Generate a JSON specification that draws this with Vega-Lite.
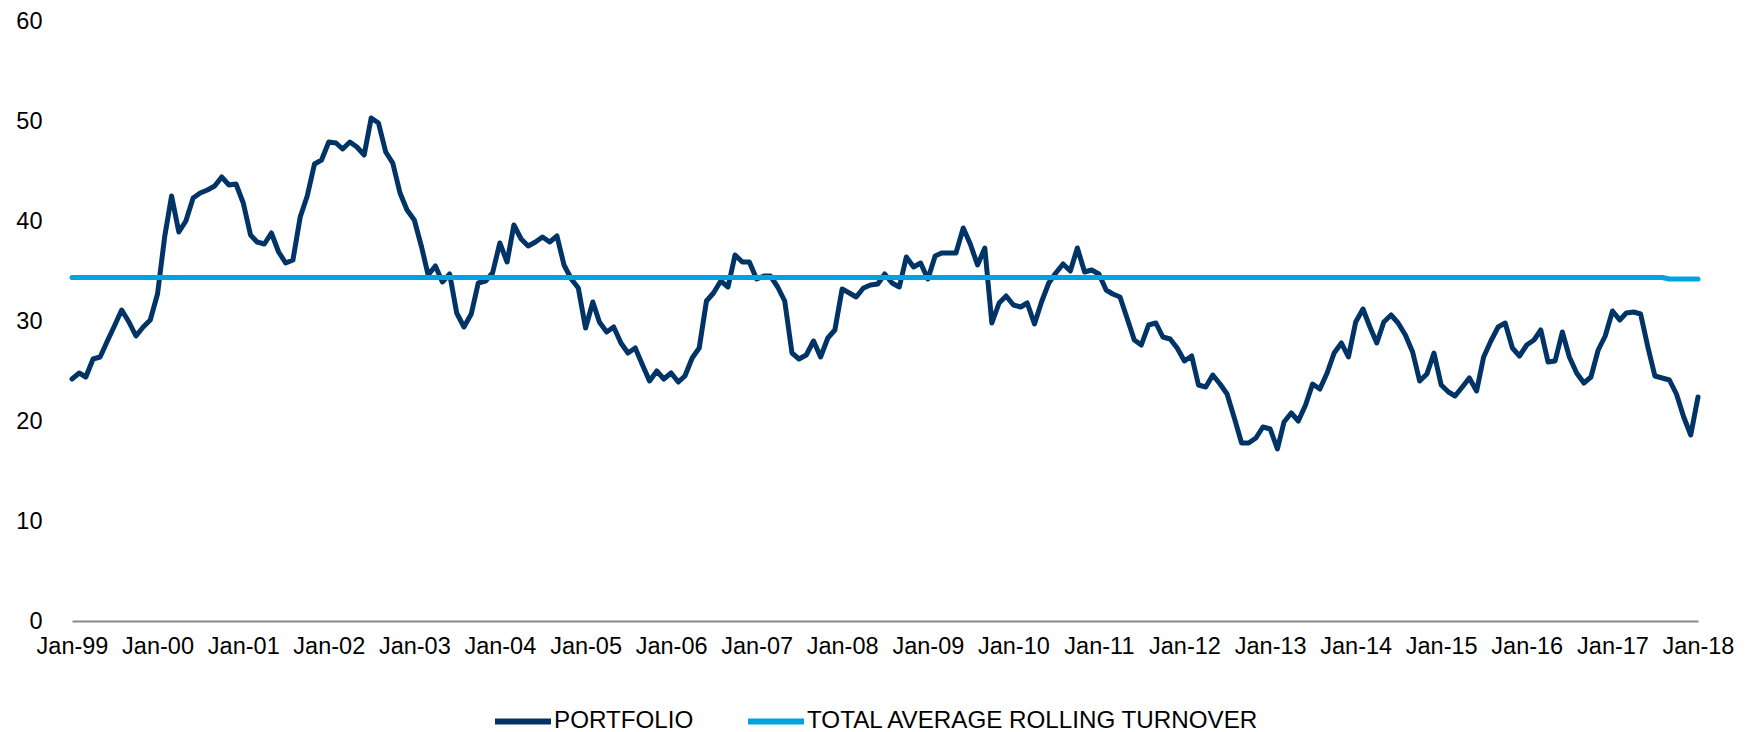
{
  "$schema": "https://vega.github.io/schema/vega-lite/v6.json",
  "width": 1626,
  "height": 600,
  "autosize": {"type": "none"},
  "padding": {"left": 72, "top": 21, "right": 49, "bottom": 111},
  "background": "white",
  "config": {"view": {"stroke": null}, "font": "Liberation Sans, Arial, sans-serif"},
  "datasets": {
    "turnover": [
      {"date":"1999-01-01","portfolio":24.2,"average":34.35},{"date":"1999-02-01","portfolio":24.8,"average":34.35},{"date":"1999-03-01","portfolio":24.4,"average":34.35},{"date":"1999-04-01","portfolio":26.2,"average":34.35},{"date":"1999-05-01","portfolio":26.4,"average":34.35},{"date":"1999-06-01","portfolio":28.0,"average":34.35},{"date":"1999-07-01","portfolio":29.5,"average":34.35},{"date":"1999-08-01","portfolio":31.1,"average":34.35},{"date":"1999-09-01","portfolio":29.9,"average":34.35},{"date":"1999-10-01","portfolio":28.5,"average":34.35},{"date":"1999-11-01","portfolio":29.4,"average":34.35},{"date":"1999-12-01","portfolio":30.1,"average":34.35},
      {"date":"2000-01-01","portfolio":32.7,"average":34.35},{"date":"2000-02-01","portfolio":38.5,"average":34.35},{"date":"2000-03-01","portfolio":42.5,"average":34.35},{"date":"2000-04-01","portfolio":38.9,"average":34.35},{"date":"2000-05-01","portfolio":40.0,"average":34.35},{"date":"2000-06-01","portfolio":42.3,"average":34.35},{"date":"2000-07-01","portfolio":42.8,"average":34.35},{"date":"2000-08-01","portfolio":43.1,"average":34.35},{"date":"2000-09-01","portfolio":43.5,"average":34.35},{"date":"2000-10-01","portfolio":44.4,"average":34.35},{"date":"2000-11-01","portfolio":43.6,"average":34.35},{"date":"2000-12-01","portfolio":43.7,"average":34.35},
      {"date":"2001-01-01","portfolio":41.8,"average":34.35},{"date":"2001-02-01","portfolio":38.6,"average":34.35},{"date":"2001-03-01","portfolio":37.9,"average":34.35},{"date":"2001-04-01","portfolio":37.7,"average":34.35},{"date":"2001-05-01","portfolio":38.8,"average":34.35},{"date":"2001-06-01","portfolio":36.9,"average":34.35},{"date":"2001-07-01","portfolio":35.8,"average":34.35},{"date":"2001-08-01","portfolio":36.1,"average":34.35},{"date":"2001-09-01","portfolio":40.4,"average":34.35},{"date":"2001-10-01","portfolio":42.5,"average":34.35},{"date":"2001-11-01","portfolio":45.7,"average":34.35},{"date":"2001-12-01","portfolio":46.1,"average":34.35},
      {"date":"2002-01-01","portfolio":47.9,"average":34.35},{"date":"2002-02-01","portfolio":47.8,"average":34.35},{"date":"2002-03-01","portfolio":47.2,"average":34.35},{"date":"2002-04-01","portfolio":47.9,"average":34.35},{"date":"2002-05-01","portfolio":47.4,"average":34.35},{"date":"2002-06-01","portfolio":46.6,"average":34.35},{"date":"2002-07-01","portfolio":50.3,"average":34.35},{"date":"2002-08-01","portfolio":49.8,"average":34.35},{"date":"2002-09-01","portfolio":46.9,"average":34.35},{"date":"2002-10-01","portfolio":45.8,"average":34.35},{"date":"2002-11-01","portfolio":42.8,"average":34.35},{"date":"2002-12-01","portfolio":41.1,"average":34.35},
      {"date":"2003-01-01","portfolio":40.1,"average":34.35},{"date":"2003-02-01","portfolio":37.4,"average":34.35},{"date":"2003-03-01","portfolio":34.6,"average":34.35},{"date":"2003-04-01","portfolio":35.5,"average":34.35},{"date":"2003-05-01","portfolio":33.9,"average":34.35},{"date":"2003-06-01","portfolio":34.7,"average":34.35},{"date":"2003-07-01","portfolio":30.8,"average":34.35},{"date":"2003-08-01","portfolio":29.4,"average":34.35},{"date":"2003-09-01","portfolio":30.7,"average":34.35},{"date":"2003-10-01","portfolio":33.8,"average":34.35},{"date":"2003-11-01","portfolio":34.0,"average":34.35},{"date":"2003-12-01","portfolio":34.8,"average":34.35},
      {"date":"2004-01-01","portfolio":37.8,"average":34.35},{"date":"2004-02-01","portfolio":35.9,"average":34.35},{"date":"2004-03-01","portfolio":39.6,"average":34.35},{"date":"2004-04-01","portfolio":38.2,"average":34.35},{"date":"2004-05-01","portfolio":37.5,"average":34.35},{"date":"2004-06-01","portfolio":37.9,"average":34.35},{"date":"2004-07-01","portfolio":38.4,"average":34.35},{"date":"2004-08-01","portfolio":37.9,"average":34.35},{"date":"2004-09-01","portfolio":38.5,"average":34.35},{"date":"2004-10-01","portfolio":35.6,"average":34.35},{"date":"2004-11-01","portfolio":34.2,"average":34.35},{"date":"2004-12-01","portfolio":33.3,"average":34.35},
      {"date":"2005-01-01","portfolio":29.3,"average":34.35},{"date":"2005-02-01","portfolio":31.9,"average":34.35},{"date":"2005-03-01","portfolio":29.9,"average":34.35},{"date":"2005-04-01","portfolio":28.9,"average":34.35},{"date":"2005-05-01","portfolio":29.4,"average":34.35},{"date":"2005-06-01","portfolio":27.8,"average":34.35},{"date":"2005-07-01","portfolio":26.8,"average":34.35},{"date":"2005-08-01","portfolio":27.3,"average":34.35},{"date":"2005-09-01","portfolio":25.6,"average":34.35},{"date":"2005-10-01","portfolio":24.0,"average":34.35},{"date":"2005-11-01","portfolio":25.0,"average":34.35},{"date":"2005-12-01","portfolio":24.2,"average":34.35},
      {"date":"2006-01-01","portfolio":24.8,"average":34.35},{"date":"2006-02-01","portfolio":23.9,"average":34.35},{"date":"2006-03-01","portfolio":24.5,"average":34.35},{"date":"2006-04-01","portfolio":26.3,"average":34.35},{"date":"2006-05-01","portfolio":27.3,"average":34.35},{"date":"2006-06-01","portfolio":32.0,"average":34.35},{"date":"2006-07-01","portfolio":32.8,"average":34.35},{"date":"2006-08-01","portfolio":34.0,"average":34.35},{"date":"2006-09-01","portfolio":33.4,"average":34.35},{"date":"2006-10-01","portfolio":36.6,"average":34.35},{"date":"2006-11-01","portfolio":35.9,"average":34.35},{"date":"2006-12-01","portfolio":35.9,"average":34.35},
      {"date":"2007-01-01","portfolio":34.2,"average":34.35},{"date":"2007-02-01","portfolio":34.5,"average":34.35},{"date":"2007-03-01","portfolio":34.5,"average":34.35},{"date":"2007-04-01","portfolio":33.4,"average":34.35},{"date":"2007-05-01","portfolio":32.0,"average":34.35},{"date":"2007-06-01","portfolio":26.8,"average":34.35},{"date":"2007-07-01","portfolio":26.2,"average":34.35},{"date":"2007-08-01","portfolio":26.6,"average":34.35},{"date":"2007-09-01","portfolio":28.0,"average":34.35},{"date":"2007-10-01","portfolio":26.4,"average":34.35},{"date":"2007-11-01","portfolio":28.3,"average":34.35},{"date":"2007-12-01","portfolio":29.1,"average":34.35},
      {"date":"2008-01-01","portfolio":33.2,"average":34.35},{"date":"2008-02-01","portfolio":32.8,"average":34.35},{"date":"2008-03-01","portfolio":32.4,"average":34.35},{"date":"2008-04-01","portfolio":33.3,"average":34.35},{"date":"2008-05-01","portfolio":33.6,"average":34.35},{"date":"2008-06-01","portfolio":33.7,"average":34.35},{"date":"2008-07-01","portfolio":34.7,"average":34.35},{"date":"2008-08-01","portfolio":33.8,"average":34.35},{"date":"2008-09-01","portfolio":33.4,"average":34.35},{"date":"2008-10-01","portfolio":36.4,"average":34.35},{"date":"2008-11-01","portfolio":35.4,"average":34.35},{"date":"2008-12-01","portfolio":35.8,"average":34.35},
      {"date":"2009-01-01","portfolio":34.2,"average":34.35},{"date":"2009-02-01","portfolio":36.5,"average":34.35},{"date":"2009-03-01","portfolio":36.8,"average":34.35},{"date":"2009-04-01","portfolio":36.8,"average":34.35},{"date":"2009-05-01","portfolio":36.8,"average":34.35},{"date":"2009-06-01","portfolio":39.3,"average":34.35},{"date":"2009-07-01","portfolio":37.7,"average":34.35},{"date":"2009-08-01","portfolio":35.6,"average":34.35},{"date":"2009-09-01","portfolio":37.3,"average":34.35},{"date":"2009-10-01","portfolio":29.8,"average":34.35},{"date":"2009-11-01","portfolio":31.8,"average":34.35},{"date":"2009-12-01","portfolio":32.5,"average":34.35},
      {"date":"2010-01-01","portfolio":31.6,"average":34.35},{"date":"2010-02-01","portfolio":31.4,"average":34.35},{"date":"2010-03-01","portfolio":31.8,"average":34.35},{"date":"2010-04-01","portfolio":29.7,"average":34.35},{"date":"2010-05-01","portfolio":31.9,"average":34.35},{"date":"2010-06-01","portfolio":33.8,"average":34.35},{"date":"2010-07-01","portfolio":34.8,"average":34.35},{"date":"2010-08-01","portfolio":35.7,"average":34.35},{"date":"2010-09-01","portfolio":35.0,"average":34.35},{"date":"2010-10-01","portfolio":37.3,"average":34.35},{"date":"2010-11-01","portfolio":34.9,"average":34.35},{"date":"2010-12-01","portfolio":35.1,"average":34.35},
      {"date":"2011-01-01","portfolio":34.7,"average":34.35},{"date":"2011-02-01","portfolio":33.1,"average":34.35},{"date":"2011-03-01","portfolio":32.7,"average":34.35},{"date":"2011-04-01","portfolio":32.4,"average":34.35},{"date":"2011-05-01","portfolio":30.3,"average":34.35},{"date":"2011-06-01","portfolio":28.1,"average":34.35},{"date":"2011-07-01","portfolio":27.6,"average":34.35},{"date":"2011-08-01","portfolio":29.6,"average":34.35},{"date":"2011-09-01","portfolio":29.8,"average":34.35},{"date":"2011-10-01","portfolio":28.4,"average":34.35},{"date":"2011-11-01","portfolio":28.2,"average":34.35},{"date":"2011-12-01","portfolio":27.3,"average":34.35},
      {"date":"2012-01-01","portfolio":26.0,"average":34.35},{"date":"2012-02-01","portfolio":26.5,"average":34.35},{"date":"2012-03-01","portfolio":23.6,"average":34.35},{"date":"2012-04-01","portfolio":23.4,"average":34.35},{"date":"2012-05-01","portfolio":24.6,"average":34.35},{"date":"2012-06-01","portfolio":23.7,"average":34.35},{"date":"2012-07-01","portfolio":22.7,"average":34.35},{"date":"2012-08-01","portfolio":20.3,"average":34.35},{"date":"2012-09-01","portfolio":17.8,"average":34.35},{"date":"2012-10-01","portfolio":17.8,"average":34.35},{"date":"2012-11-01","portfolio":18.3,"average":34.35},{"date":"2012-12-01","portfolio":19.4,"average":34.35},
      {"date":"2013-01-01","portfolio":19.2,"average":34.35},{"date":"2013-02-01","portfolio":17.2,"average":34.35},{"date":"2013-03-01","portfolio":19.9,"average":34.35},{"date":"2013-04-01","portfolio":20.8,"average":34.35},{"date":"2013-05-01","portfolio":20.0,"average":34.35},{"date":"2013-06-01","portfolio":21.6,"average":34.35},{"date":"2013-07-01","portfolio":23.7,"average":34.35},{"date":"2013-08-01","portfolio":23.2,"average":34.35},{"date":"2013-09-01","portfolio":24.8,"average":34.35},{"date":"2013-10-01","portfolio":26.8,"average":34.35},{"date":"2013-11-01","portfolio":27.8,"average":34.35},{"date":"2013-12-01","portfolio":26.4,"average":34.35},
      {"date":"2014-01-01","portfolio":29.9,"average":34.35},{"date":"2014-02-01","portfolio":31.2,"average":34.35},{"date":"2014-03-01","portfolio":29.5,"average":34.35},{"date":"2014-04-01","portfolio":27.8,"average":34.35},{"date":"2014-05-01","portfolio":29.9,"average":34.35},{"date":"2014-06-01","portfolio":30.6,"average":34.35},{"date":"2014-07-01","portfolio":29.8,"average":34.35},{"date":"2014-08-01","portfolio":28.6,"average":34.35},{"date":"2014-09-01","portfolio":26.9,"average":34.35},{"date":"2014-10-01","portfolio":24.0,"average":34.35},{"date":"2014-11-01","portfolio":24.7,"average":34.35},{"date":"2014-12-01","portfolio":26.8,"average":34.35},
      {"date":"2015-01-01","portfolio":23.6,"average":34.35},{"date":"2015-02-01","portfolio":22.9,"average":34.35},{"date":"2015-03-01","portfolio":22.5,"average":34.35},{"date":"2015-04-01","portfolio":23.4,"average":34.35},{"date":"2015-05-01","portfolio":24.3,"average":34.35},{"date":"2015-06-01","portfolio":23.0,"average":34.35},{"date":"2015-07-01","portfolio":26.4,"average":34.35},{"date":"2015-08-01","portfolio":28.0,"average":34.35},{"date":"2015-09-01","portfolio":29.4,"average":34.35},{"date":"2015-10-01","portfolio":29.8,"average":34.35},{"date":"2015-11-01","portfolio":27.3,"average":34.35},{"date":"2015-12-01","portfolio":26.5,"average":34.35},
      {"date":"2016-01-01","portfolio":27.6,"average":34.35},{"date":"2016-02-01","portfolio":28.1,"average":34.35},{"date":"2016-03-01","portfolio":29.1,"average":34.35},{"date":"2016-04-01","portfolio":25.9,"average":34.35},{"date":"2016-05-01","portfolio":26.0,"average":34.35},{"date":"2016-06-01","portfolio":28.9,"average":34.35},{"date":"2016-07-01","portfolio":26.4,"average":34.35},{"date":"2016-08-01","portfolio":24.8,"average":34.35},{"date":"2016-09-01","portfolio":23.8,"average":34.35},{"date":"2016-10-01","portfolio":24.4,"average":34.35},{"date":"2016-11-01","portfolio":27.1,"average":34.35},{"date":"2016-12-01","portfolio":28.5,"average":34.35},
      {"date":"2017-01-01","portfolio":31.0,"average":34.35},{"date":"2017-02-01","portfolio":30.1,"average":34.35},{"date":"2017-03-01","portfolio":30.8,"average":34.35},{"date":"2017-04-01","portfolio":30.9,"average":34.35},{"date":"2017-05-01","portfolio":30.7,"average":34.35},{"date":"2017-06-01","portfolio":27.4,"average":34.35},{"date":"2017-07-01","portfolio":24.5,"average":34.35},{"date":"2017-08-01","portfolio":24.3,"average":34.35},{"date":"2017-09-01","portfolio":24.1,"average":34.2},{"date":"2017-10-01","portfolio":22.7,"average":34.2},{"date":"2017-11-01","portfolio":20.4,"average":34.2},{"date":"2017-12-01","portfolio":18.6,"average":34.2},
      {"date":"2018-01-01","portfolio":22.4,"average":34.2}
    ]
  },
  "data": {"name": "turnover"},
  "encoding": {
    "x": {
      "field": "date",
      "type": "temporal",
      "scale": {"type": "utc", "domain": [{"year": 1999, "month": 1, "date": 1, "utc": true}, {"year": 2018, "month": 1, "date": 1, "utc": true}]},
      "axis": {
        "title": null,
        "format": "%b-%y",
        "tickCount": {"interval": "year", "step": 1},
        "ticks": false,
        "grid": false,
        "domainColor": "#898989",
        "domainWidth": 2,
        "labelFontSize": 23.5,
        "labelColor": "#000000",
        "labelPadding": 13,
        "labelFlush": false,
        "labelOverlap": false
      }
    }
  },
  "layer": [
    {
      "mark": {"type": "line", "strokeWidth": 5, "strokeJoin": "round", "strokeCap": "round"},
      "encoding": {
        "y": {
          "field": "portfolio",
          "type": "quantitative",
          "scale": {"domain": [0, 60]},
          "axis": {"title": null, "values": [0, 10, 20, 30, 40, 50, 60], "domain": false, "ticks": false, "grid": false, "labelFontSize": 23.5, "labelColor": "#000000", "labelPadding": 30}
        },
        "color": {
          "datum": "PORTFOLIO",
          "type": "nominal",
          "scale": {"domain": ["PORTFOLIO", "TOTAL AVERAGE ROLLING TURNOVER"], "range": ["#003466", "#00A3E1"]},
          "legend": {
            "title": null,
            "orient": "none",
            "legendX": 420,
            "legendY": 669,
            "direction": "horizontal",
            "symbolType": "stroke",
            "symbolSize": 3136,
            "symbolStrokeWidth": 6,
            "labelFontSize": 24.2,
            "labelColor": "#000000",
            "labelOffset": 0,
            "columnPadding": 42,
            "labelLimit": 700
          }
        }
      }
    },
    {
      "mark": {"type": "line", "strokeWidth": 5, "strokeJoin": "round", "strokeCap": "round"},
      "encoding": {
        "y": {"field": "average", "type": "quantitative"},
        "color": {"datum": "TOTAL AVERAGE ROLLING TURNOVER", "type": "nominal"}
      }
    }
  ]
}
